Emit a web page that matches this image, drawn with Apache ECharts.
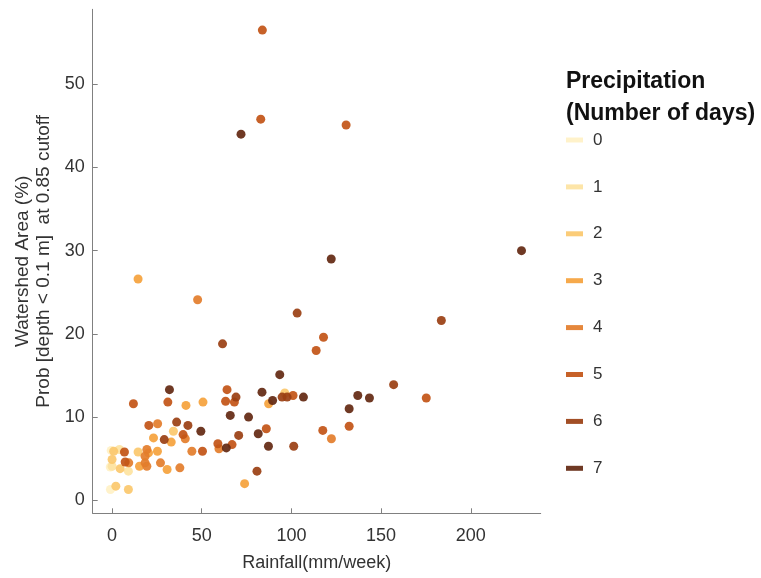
<!DOCTYPE html>
<html>
<head>
<meta charset="utf-8">
<script src="https://cdn.jsdelivr.net/npm/echarts@6/dist/echarts.min.js"></script>
<style>
html,body{margin:0;padding:0;background:#fff;}
#chart{width:761px;height:578px;}
</style>
</head>
<body>
<div id="chart"></div>
<script>
// Rainfall (mm/week)
var rainfall = [
  83.8, 82.9, 71.9, 130.5, 122.2, 228.3, 14.5, 47.7, 103.2, 183.6, 61.6, 117.9, 113.8,
  11.9, 32.0, 31.1, 41.2, 50.7, 64.1, 69.1, 63.3, 68.2, 83.6, 93.5, 89.5, 87.3, 96.3,
  94.8, 97.6, 100.9, 106.7, 157.0, 175.2, 137.0, 143.5, 132.2, 132.2, 117.5, 122.3, 101.3,
  20.5, 25.4, 36.0, 42.3, 34.2, 23.1, 29.1, 39.6, 40.8, 49.5, 65.9, 76.1, 86.0, 70.6,
  81.5, 87.2, 59.0, 59.6, 63.7, 66.9, 44.5, 50.4,
  80.8, 73.9, 37.8, 30.7, 27.0, 25.3, 19.4, 20.3, 18.4, 18.4, 19.4, 15.3, 14.5, 6.9,
  7.3, 9.3, 0.9, 4.1, 0.0, 4.5, 9.1, 0.0, 2.1, 9.1, -0.9, -1.0, -0.5, 33.0
];
// Watershed area (%)
var watershed = [
  56.5, 45.8, 44.0, 45.1, 29.0, 30.0, 26.6, 24.1, 22.5, 21.6, 18.8, 19.6, 18.0,
  11.6, 13.3, 11.8, 11.4, 11.8, 13.3, 12.4, 11.9, 11.8, 13.0, 15.1, 12.0, 11.6, 12.9,
  12.4, 12.4, 12.6, 12.4, 13.9, 12.3, 12.6, 12.3, 11.0, 8.9, 8.4, 7.4, 6.5,
  9.0, 9.2, 9.4, 9.0, 8.3, 7.5, 7.3, 7.9, 7.4, 8.3, 10.2, 10.0, 8.6, 7.8,
  8.0, 6.5, 6.8, 6.2, 6.3, 6.7, 5.9, 5.9,
  3.5, 2.0, 3.9, 3.7, 4.5, 5.9, 6.1, 5.7, 5.3, 4.5, 4.1, 4.1, 5.8, 5.8,
  4.6, 4.5, 5.9, 6.1, 4.9, 3.8, 3.5, 4.1, 1.7, 1.3, 1.3, 4.0, 6.0, 7.0
];
// Precipitation (number of days)
var days = [
  5, 5, 7, 5, 7, 7, 3, 4, 6, 6, 6, 5, 5,
  5, 7, 5, 3, 3, 5, 6, 5, 5, 7, 7, 7, 3, 2,
  6, 6, 5, 7, 6, 5, 7, 7, 7, 5, 5, 4, 6,
  5, 4, 6, 6, 2, 3, 6, 5, 4, 7, 7, 7, 5, 6,
  7, 7, 5, 4, 7, 5, 4, 5,
  6, 3, 4, 3, 4, 3, 4, 3, 4, 4, 4, 3, 2, 5,
  5, 4, 2, 1, 2, 2, 1, 1, 2, 2, 0, 0, 0, 3
];
var dayLevels = ['0', '1', '2', '3', '4', '5', '6', '7'];
var xTicks = [0, 50, 100, 150, 200];
var yTicks = [0, 10, 20, 30, 40, 50];

var palette = ['#fff1c6', '#fde3a1', '#fbc86c', '#f5a23c', '#e37d2b', '#c25416', '#9a3f12', '#632811'];

var series = dayLevels.map(function (lvl, i) {
  var pts = [];
  for (var k = 0; k < rainfall.length; k++) {
    if (days[k] === i) pts.push([rainfall[k], watershed[k]]);
  }
  return {
    name: lvl,
    type: 'scatter',
    symbol: 'circle',
    symbolSize: 9,
    z: 2 + i,
    itemStyle: { color: palette[i], opacity: 0.92 },
    data: pts
  };
});

var axisColor = '#808080';
var textColor = '#333333';
var font = 'Liberation Sans, Arial, sans-serif';

var chart = echarts.init(document.getElementById('chart'), null, { renderer: 'canvas' });
chart.setOption({
  animation: false,
  backgroundColor: '#ffffff',
  color: palette,
  title: {
    text: 'Precipitation\n(Number of days)',
    left: 566,
    top: 66,
    padding: 0,
    textStyle: { fontFamily: font, fontSize: 23, fontWeight: 'bold', color: '#111111', lineHeight: 32 }
  },
  legend: {
    orient: 'vertical',
    left: 566,
    top: 130,
    padding: 0,
    icon: 'rect',
    itemWidth: 17,
    itemHeight: 5,
    itemGap: 26.9,
    data: dayLevels,
    textStyle: { fontFamily: font, fontSize: 17, color: textColor, lineHeight: 20, padding: [0, 0, 0, 5] }
  },
  grid: { left: 92.7, right: 220.3, top: 9.3, bottom: 64.7, containLabel: false },
  xAxis: {
    type: 'value',
    min: -10.8,
    max: 239,
    name: 'Rainfall(mm/week)',
    nameLocation: 'middle',
    nameGap: 41,
    nameTextStyle: { fontFamily: font, fontSize: 18, color: textColor },
    axisLine: { show: true, onZero: false, lineStyle: { color: axisColor, width: 1 } },
    axisTick: { show: true, inside: true, length: 5, lineStyle: { color: axisColor }, customValues: xTicks },
    axisLabel: { fontFamily: font, fontSize: 18, color: textColor, margin: 14, customValues: xTicks },
    splitLine: { show: false }
  },
  yAxis: {
    type: 'value',
    min: -1.56,
    max: 59,
    name: 'Watershed Area (%)\nProb [depth < 0.1 m]  at 0.85 cutoff',
    nameLocation: 'middle',
    nameGap: 38,
    nameRotate: 90,
    nameTextStyle: { fontFamily: font, fontSize: 19, color: textColor, lineHeight: 21 },
    axisLine: { show: true, onZero: false, lineStyle: { color: axisColor, width: 1 } },
    axisTick: { show: true, inside: true, length: 5, lineStyle: { color: axisColor }, customValues: yTicks },
    axisLabel: { fontFamily: font, fontSize: 18, color: textColor, margin: 8, customValues: yTicks },
    splitLine: { show: false }
  },
  series: series
});
</script>
</body>
</html>
